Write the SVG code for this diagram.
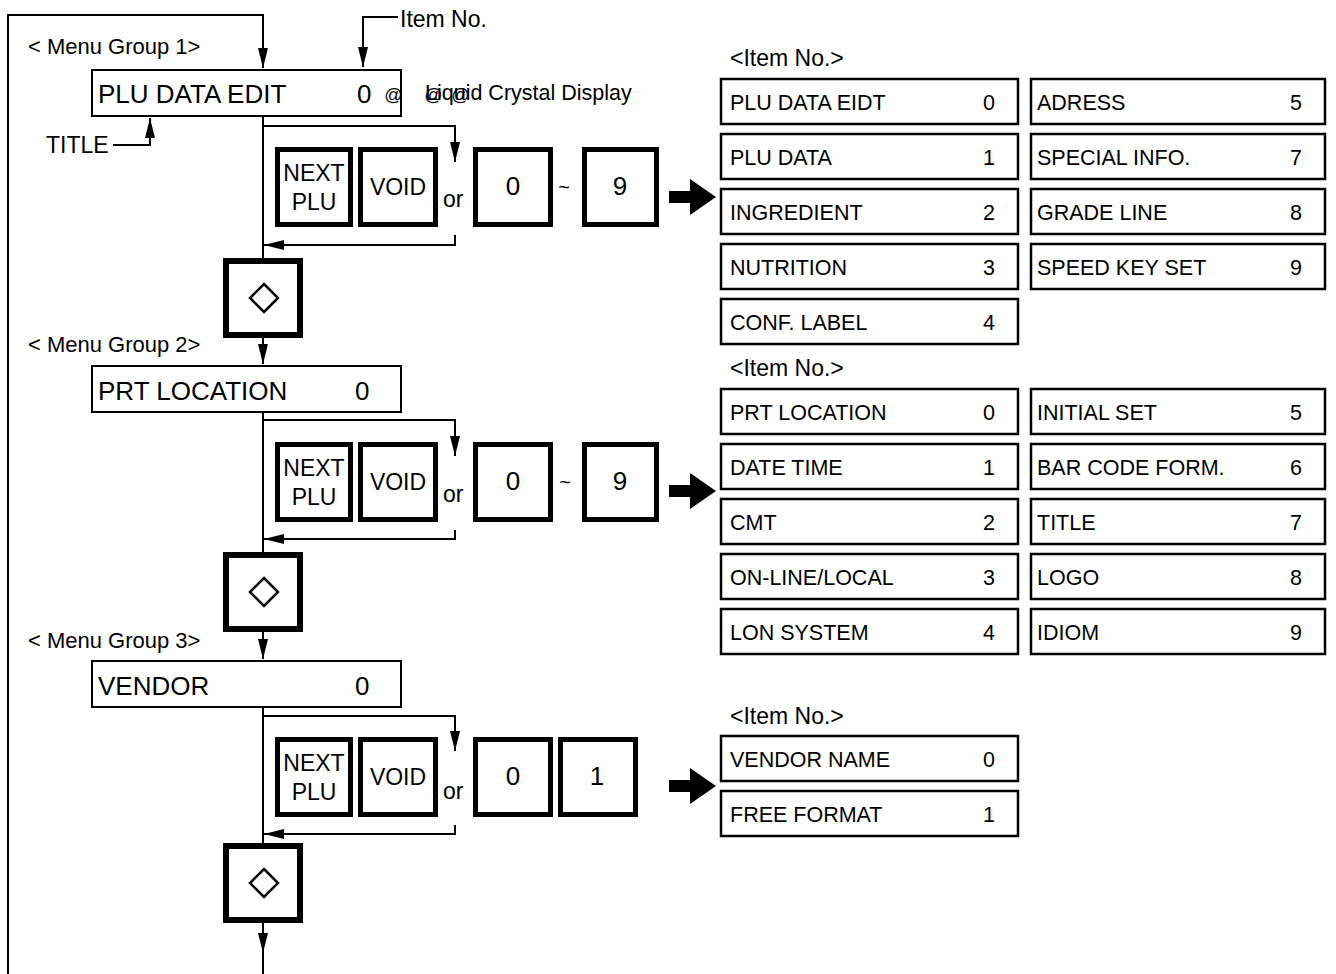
<svg xmlns="http://www.w3.org/2000/svg" width="1336" height="974" viewBox="0 0 1336 974">
<style>
text{font-family:"Liberation Sans",Arial,sans-serif;fill:#000}
.lcd{fill:#fff;stroke:#000;stroke-width:2}
.key{fill:#fff;stroke:#000;stroke-width:5}
.dk{fill:#fff;stroke:#000;stroke-width:6}
.row{fill:#fff;stroke:#000;stroke-width:2.5}
.ln{fill:none;stroke:#000;stroke-width:2}
.t26{font-size:26px}
.t22{font-size:22px}
.t23{font-size:23px}
.tr{font-size:21.5px}
.big{fill:#000}
.at{font-size:18px;font-style:italic}
</style>
<defs>
<marker id="ah" viewBox="0 0 20 10" refX="20" refY="5" markerWidth="20" markerHeight="10" markerUnits="userSpaceOnUse" orient="auto">
<path d="M0,0 L20,5 L0,10 z" fill="#000"/>
</marker>
<path id="diam" d="M0,-14 L14,0 L0,14 L-14,0 z" fill="#fff" stroke="#000" stroke-width="2.5"/>
<polygon id="bigarrow" points="669,-6 690,-6 690,-18 716,0 690,18 690,6 669,6"/>
</defs>
<rect width="1336" height="974" fill="#fff"/>

<g id="connectors">
<path class="ln" d="M8,974 V15 H263 V68" stroke-width="2.5" marker-end="url(#ah)"/>
<path class="ln" d="M398,17 H363 V67" marker-end="url(#ah)"/>
<path class="ln" d="M113,145 H150 V118" marker-end="url(#ah)"/>
<path class="ln" d="M263,116 V258"/>
<path class="ln" d="M263,126 H455 V162" marker-end="url(#ah)"/>
<path class="ln" d="M455,235 V245 H264" marker-end="url(#ah)"/>
<path class="ln" d="M263,338 V364" marker-end="url(#ah)"/>
<path class="ln" d="M263,412 V552"/>
<path class="ln" d="M263,420 H455 V456" marker-end="url(#ah)"/>
<path class="ln" d="M455,530 V539 H264" marker-end="url(#ah)"/>
<path class="ln" d="M263,632 V659" marker-end="url(#ah)"/>
<path class="ln" d="M263,707 V844"/>
<path class="ln" d="M263,716 H455 V751" marker-end="url(#ah)"/>
<path class="ln" d="M455,825 V834 H264" marker-end="url(#ah)"/>
<path class="ln" d="M263,923 V953" marker-end="url(#ah)"/>
<path class="ln" d="M263,952 V974"/>
<use href="#bigarrow" class="big" transform="translate(0,197)"/>
<use href="#bigarrow" class="big" transform="translate(0,491)"/>
<use href="#bigarrow" class="big" transform="translate(0,786)"/>
</g>

<!-- Group 1 -->
<g id="lcd1"><rect class="lcd" x="92" y="70" width="309" height="46"/><text class="t26" x="98" y="103">PLU DATA EDIT</text><text class="t26" x="357" y="103">0</text></g>
<g id="keys1">
<rect class="key" x="277.5" y="149.5" width="73" height="75"/>
<text class="t23" x="314" y="181" text-anchor="middle">NEXT</text>
<text class="t23" x="314" y="210" text-anchor="middle">PLU</text>
<rect class="key" x="360.5" y="149.5" width="75" height="75"/>
<text class="t23" x="398" y="195" text-anchor="middle">VOID</text>
<text class="t23" x="443" y="207">or</text>
<rect class="key" x="475.5" y="149.5" width="75" height="75"/>
<text class="t26" x="513" y="195" text-anchor="middle">0</text>
<text x="564" y="194" font-size="20" text-anchor="middle">~</text>
<rect class="key" x="584.5" y="149.5" width="72" height="75"/>
<text class="t26" x="620" y="195" text-anchor="middle">9</text>
</g>
<g id="dkey1"><rect class="dk" x="226" y="261" width="74" height="74"/><use href="#diam" transform="translate(264,298)"/></g>

<!-- Group 2 -->
<g id="lcd2"><rect class="lcd" x="92" y="366" width="309" height="46"/><text class="t26" x="98" y="400">PRT LOCATION</text><text class="t26" x="355" y="400">0</text></g>
<g id="keys2">
<rect class="key" x="277.5" y="444.5" width="73" height="75"/>
<text class="t23" x="314" y="476" text-anchor="middle">NEXT</text>
<text class="t23" x="314" y="505" text-anchor="middle">PLU</text>
<rect class="key" x="360.5" y="444.5" width="75" height="75"/>
<text class="t23" x="398" y="490" text-anchor="middle">VOID</text>
<text class="t23" x="443" y="502">or</text>
<rect class="key" x="475.5" y="444.5" width="75" height="75"/>
<text class="t26" x="513" y="490" text-anchor="middle">0</text>
<text x="565" y="489" font-size="20" text-anchor="middle">~</text>
<rect class="key" x="584.5" y="444.5" width="72" height="75"/>
<text class="t26" x="620" y="490" text-anchor="middle">9</text>
</g>
<g id="dkey2"><rect class="dk" x="226" y="555" width="74" height="74"/><use href="#diam" transform="translate(264,592)"/></g>

<!-- Group 3 -->
<g id="lcd3"><rect class="lcd" x="92" y="661" width="309" height="46"/><text class="t26" x="98" y="695">VENDOR</text><text class="t26" x="355" y="695">0</text></g>
<g id="keys3">
<rect class="key" x="277.5" y="739.5" width="73" height="75"/>
<text class="t23" x="314" y="771" text-anchor="middle">NEXT</text>
<text class="t23" x="314" y="800" text-anchor="middle">PLU</text>
<rect class="key" x="360.5" y="739.5" width="75" height="75"/>
<text class="t23" x="398" y="785" text-anchor="middle">VOID</text>
<text class="t23" x="443" y="799">or</text>
<rect class="key" x="475.5" y="739.5" width="75" height="75"/>
<text class="t26" x="513" y="785" text-anchor="middle">0</text>
<rect class="key" x="560.5" y="739.5" width="75" height="75"/>
<text class="t26" x="597" y="785" text-anchor="middle">1</text>
</g>
<g id="dkey3"><rect class="dk" x="226" y="846" width="74" height="74"/><use href="#diam" transform="translate(264,883)"/></g>

<!-- Table 1 -->
<g id="table1">
<text class="t23" x="730" y="66">&lt;Item No.&gt;</text>
<rect class="row" x="721" y="79" width="297" height="45"/><text class="tr" x="730" y="110">PLU DATA EIDT</text><text class="tr" x="989" y="110" text-anchor="middle">0</text>
<rect class="row" x="721" y="134" width="297" height="45"/><text class="tr" x="730" y="165">PLU DATA</text><text class="tr" x="989" y="165" text-anchor="middle">1</text>
<rect class="row" x="721" y="189" width="297" height="45"/><text class="tr" x="730" y="220">INGREDIENT</text><text class="tr" x="989" y="220" text-anchor="middle">2</text>
<rect class="row" x="721" y="244" width="297" height="45"/><text class="tr" x="730" y="275">NUTRITION</text><text class="tr" x="989" y="275" text-anchor="middle">3</text>
<rect class="row" x="721" y="299" width="297" height="45"/><text class="tr" x="730" y="330">CONF. LABEL</text><text class="tr" x="989" y="330" text-anchor="middle">4</text>
<rect class="row" x="1031" y="79" width="294" height="45"/><text class="tr" x="1037" y="110">ADRESS</text><text class="tr" x="1296" y="110" text-anchor="middle">5</text>
<rect class="row" x="1031" y="134" width="294" height="45"/><text class="tr" x="1037" y="165">SPECIAL INFO.</text><text class="tr" x="1296" y="165" text-anchor="middle">7</text>
<rect class="row" x="1031" y="189" width="294" height="45"/><text class="tr" x="1037" y="220">GRADE LINE</text><text class="tr" x="1296" y="220" text-anchor="middle">8</text>
<rect class="row" x="1031" y="244" width="294" height="45"/><text class="tr" x="1037" y="275">SPEED KEY SET</text><text class="tr" x="1296" y="275" text-anchor="middle">9</text>
</g>

<!-- Table 2 -->
<g id="table2">
<text class="t23" x="730" y="376">&lt;Item No.&gt;</text>
<rect class="row" x="721" y="389" width="297" height="45"/><text class="tr" x="730" y="420">PRT LOCATION</text><text class="tr" x="989" y="420" text-anchor="middle">0</text>
<rect class="row" x="721" y="444" width="297" height="45"/><text class="tr" x="730" y="475">DATE TIME</text><text class="tr" x="989" y="475" text-anchor="middle">1</text>
<rect class="row" x="721" y="499" width="297" height="45"/><text class="tr" x="730" y="530">CMT</text><text class="tr" x="989" y="530" text-anchor="middle">2</text>
<rect class="row" x="721" y="554" width="297" height="45"/><text class="tr" x="730" y="585">ON-LINE/LOCAL</text><text class="tr" x="989" y="585" text-anchor="middle">3</text>
<rect class="row" x="721" y="609" width="297" height="45"/><text class="tr" x="730" y="640">LON SYSTEM</text><text class="tr" x="989" y="640" text-anchor="middle">4</text>
<rect class="row" x="1031" y="389" width="294" height="45"/><text class="tr" x="1037" y="420">INITIAL SET</text><text class="tr" x="1296" y="420" text-anchor="middle">5</text>
<rect class="row" x="1031" y="444" width="294" height="45"/><text class="tr" x="1037" y="475">BAR CODE FORM.</text><text class="tr" x="1296" y="475" text-anchor="middle">6</text>
<rect class="row" x="1031" y="499" width="294" height="45"/><text class="tr" x="1037" y="530">TITLE</text><text class="tr" x="1296" y="530" text-anchor="middle">7</text>
<rect class="row" x="1031" y="554" width="294" height="45"/><text class="tr" x="1037" y="585">LOGO</text><text class="tr" x="1296" y="585" text-anchor="middle">8</text>
<rect class="row" x="1031" y="609" width="294" height="45"/><text class="tr" x="1037" y="640">IDIOM</text><text class="tr" x="1296" y="640" text-anchor="middle">9</text>
</g>

<!-- Table 3 -->
<g id="table3">
<text class="t23" x="730" y="724">&lt;Item No.&gt;</text>
<rect class="row" x="721" y="736" width="297" height="45"/><text class="tr" x="730" y="767">VENDOR NAME</text><text class="tr" x="989" y="767" text-anchor="middle">0</text>
<rect class="row" x="721" y="791" width="297" height="45"/><text class="tr" x="730" y="822">FREE FORMAT</text><text class="tr" x="989" y="822" text-anchor="middle">1</text>
</g>

<g id="labels">
<text class="t23" x="400" y="27">Item No.</text>
<text class="t23" x="46" y="153">TITLE</text>
<text class="t22" x="28" y="54">&lt; Menu Group 1&gt;</text>
<text class="t22" x="28" y="352">&lt; Menu Group 2&gt;</text>
<text class="t22" x="28" y="648">&lt; Menu Group 3&gt;</text>
<text x="425" y="100" font-size="21.5">Liquid Crystal Display</text>
<text class="at" x="384" y="101">@</text>
<text class="at" x="424" y="101">@</text>
<text class="at" x="451" y="101">@</text>
</g>
</svg>
